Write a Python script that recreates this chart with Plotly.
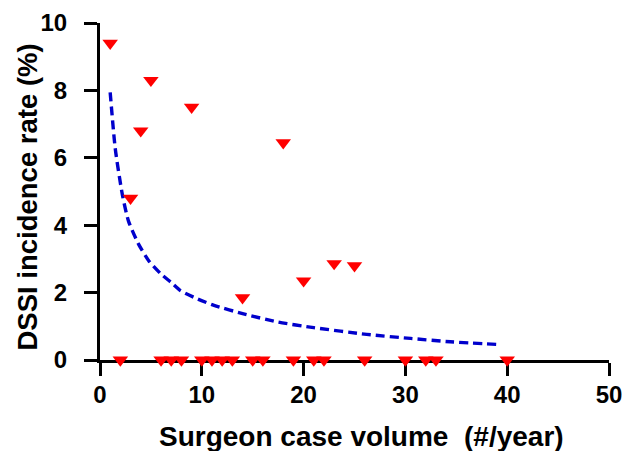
import plotly.graph_objects as go

# Observed surgeon data points
case_volume = [1, 5, 9, 4, 18, 3, 14, 20, 23, 25,
               2, 6, 7, 8, 10, 11, 12, 13, 15, 16, 19, 21, 22, 26, 30, 32, 33, 40]
dssi_rate = [9.4, 8.3, 7.5, 6.8, 6.45, 4.8, 1.85, 2.35, 2.86, 2.8,
             0, 0, 0, 0, 0, 0, 0, 0, 0, 0, 0, 0, 0, 0, 0, 0, 0, 0]

# Fitted curve, points
fit_x = [1, 1.5, 2.2, 2.8, 3.8, 4.8, 6.0, 7.0, 7.9, 9.6, 11.2, 14.1, 17.4, 21, 26.2, 30.5, 34.4, 39.2]
fit_y = [7.94, 6.27, 4.9, 4.12, 3.43, 2.94, 2.55, 2.3, 2.06, 1.81, 1.62, 1.37, 1.13, 0.96, 0.76, 0.64, 0.54, 0.46]

x_ticks = [0, 10, 20, 30, 40, 50]
y_ticks = [0, 2, 4, 6, 8, 10]

x_title = "Surgeon case volume\u00a0\u00a0(#/year)"
y_title = "DSSI incidence rate (%)"

FONT = "Liberation Sans, Arial, sans-serif"

fig = go.Figure()
fig.add_trace(go.Scatter(
    x=fit_x, y=fit_y, mode="lines",
    line=dict(color="#0000CC", width=3.4, dash="9px,5px", shape="spline", smoothing=0.6),
    hoverinfo="skip", showlegend=False,
))
fig.add_trace(go.Scatter(
    x=case_volume, y=dssi_rate, mode="markers",
    marker=dict(symbol="triangle-down", size=13.5, color="#FF0000"),
    cliponaxis=False, showlegend=False,
))

axis_common = dict(
    showline=True, linecolor="black", linewidth=3,
    ticks="outside", ticklen=13, tickwidth=3, tickcolor="black",
    showgrid=False, zeroline=False, layer="below traces", automargin=False,
    tickfont=dict(family=FONT, size=24, color="black", weight="bold"),
)

fig.update_layout(
    width=625, height=451,
    margin=dict(l=100, r=16, t=23, b=91),
    plot_bgcolor="white", paper_bgcolor="white",
    xaxis=dict(range=[0, 50], tickvals=x_ticks, ticklabelstandoff=-2, **axis_common),
    yaxis=dict(range=[0, 10], tickvals=y_ticks, ticklabelstandoff=12, **axis_common),
    annotations=[
        dict(text=x_title, xref="paper", yref="paper", x=0.5, y=0,
             xanchor="center", yanchor="middle", xshift=7, yshift=-76,
             showarrow=False,
             font=dict(family=FONT, size=28, color="black", weight="bold")),
        dict(text=y_title, xref="paper", yref="paper", x=0, y=0.5,
             xanchor="center", yanchor="middle", xshift=-73, yshift=-6,
             textangle=-90, showarrow=False,
             font=dict(family=FONT, size=27.5, color="black", weight="bold")),
    ],
)

# remove the page's default body margin so the 625x451 figure fills the window
fig.write_html(
    "out.html",
    config={"displayModeBar": False},
    post_script="document.body.style.margin='0';document.body.style.overflow='hidden';",
)
